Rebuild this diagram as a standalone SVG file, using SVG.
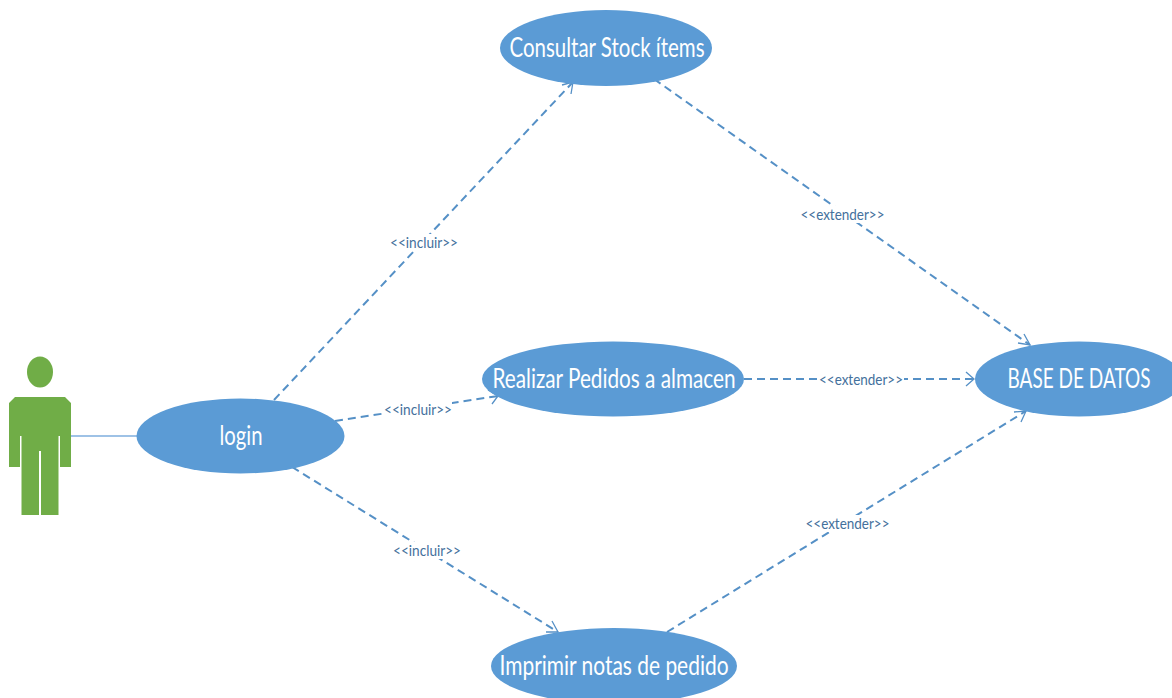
<svg xmlns="http://www.w3.org/2000/svg" width="1172" height="698" viewBox="0 0 1172 698">
<style>
.uc{fill:#5b9bd5}
.t{fill:#fff;font-family:Lato,"Open Sans",sans-serif;font-size:26px;text-anchor:middle}
.c{fill:none;stroke:#5590c6;stroke-width:2;stroke-dasharray:8 5}
.l{fill:#44709c;font-family:Lato,"Open Sans",sans-serif;font-size:16px;text-anchor:middle}
.h{fill:none;stroke:#5590c6;stroke-width:1.3}
.bg{fill:#fff}
</style>
<rect width="1172" height="698" fill="#fff"/>
<g id="connectors">
<line x1="71" y1="436" x2="137" y2="436" stroke="#7eaede" stroke-width="1.6"/>
<line class="c" x1="274" y1="400" x2="573" y2="82"/>
<path class="h" d="M562 85L573 82L571 94"/>
<line class="c" x1="335" y1="421" x2="498" y2="396"/>
<path class="h" d="M488 390L498 396L492 404"/>
<line class="c" x1="292" y1="467" x2="558" y2="632"/>
<path class="h" d="M552 621L558 632L546 632"/>
<line class="c" x1="654" y1="79" x2="1030" y2="345"/>
<path class="h" d="M1024 334L1030 345L1018 343"/>
<line class="c" x1="744" y1="379" x2="974" y2="379"/>
<path class="h" d="M966 372L974 379L966 386"/>
<line class="c" x1="667" y1="632" x2="1026" y2="411"/>
<path class="h" d="M1014 412L1026 411L1021 422"/>
<rect class="bg" x="389" y="234" width="69" height="17"/>
<text class="l" x="424" y="247.500" textLength="68" lengthAdjust="spacingAndGlyphs">&lt;&lt;incluir&gt;&gt;</text>
<rect class="bg" x="384" y="401" width="68" height="17"/>
<text class="l" x="418" y="414.500" textLength="68" lengthAdjust="spacingAndGlyphs">&lt;&lt;incluir&gt;&gt;</text>
<rect class="bg" x="393" y="542" width="68" height="17"/>
<text class="l" x="427" y="555.500" textLength="68" lengthAdjust="spacingAndGlyphs">&lt;&lt;incluir&gt;&gt;</text>
<rect class="bg" x="800" y="206" width="85" height="17"/>
<text class="l" x="842.500" y="219.500" textLength="84" lengthAdjust="spacingAndGlyphs">&lt;&lt;extender&gt;&gt;</text>
<rect class="bg" x="818" y="371" width="86" height="17"/>
<text class="l" x="861" y="384.500" textLength="84" lengthAdjust="spacingAndGlyphs">&lt;&lt;extender&gt;&gt;</text>
<rect class="bg" x="805" y="515" width="85" height="17"/>
<text class="l" x="847.500" y="528.500" textLength="84" lengthAdjust="spacingAndGlyphs">&lt;&lt;extender&gt;&gt;</text>
</g>
<g id="actor" fill="#70ad47">
<ellipse cx="40" cy="372" rx="13" ry="15.500"/>
<path d="M15 397H65L71 403V467H60V436H58.500V515H41V451H39V515H21.500V436H20V467H9V403Z"/>
</g>
<g id="login"><ellipse class="uc" cx="240.500" cy="436" rx="104" ry="37.500"/>
<text class="t" x="241" y="445" textLength="43" lengthAdjust="spacingAndGlyphs">login</text></g>
<g id="consultar"><ellipse class="uc" cx="606" cy="48" rx="106" ry="38"/>
<text class="t" x="607" y="57" textLength="195" lengthAdjust="spacingAndGlyphs">Consultar Stock ítems</text></g>
<g id="realizar"><ellipse class="uc" cx="613" cy="379" rx="131" ry="37.500"/>
<text class="t" x="614" y="388" textLength="243" lengthAdjust="spacingAndGlyphs">Realizar Pedidos a almacen</text></g>
<g id="imprimir"><ellipse class="uc" cx="614" cy="666" rx="123" ry="38"/>
<text class="t" x="614" y="675" textLength="229" lengthAdjust="spacingAndGlyphs">Imprimir notas de pedido</text></g>
<g id="base"><ellipse class="uc" cx="1079" cy="379" rx="104" ry="37.500"/>
<text class="t" x="1079" y="388" textLength="143" lengthAdjust="spacingAndGlyphs">BASE DE DATOS</text></g>
</svg>
